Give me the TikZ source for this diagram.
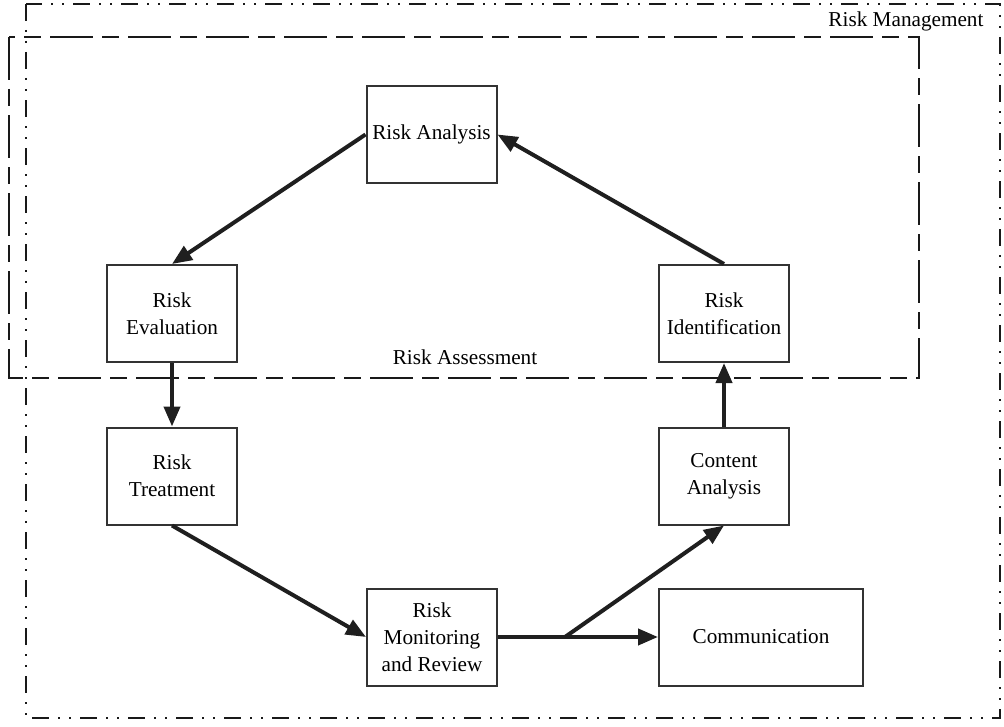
\documentclass[tikz,border=0pt]{standalone}
\usepackage{fontspec}
\setmainfont{Liberation Serif}
\usetikzlibrary{arrows.meta}
\begin{document}
\begin{tikzpicture}[x=1bp,y=-1bp,
  every node/.style={font=\fontsize{21.3}{27}\selectfont, text=black},
  procbox/.style={draw=black!80, line width=2bp, minimum width=130bp,
    minimum height=97bp, align=center, inner sep=0pt},
  flow/.style={line width=4bp, draw=black!88,
    -{Triangle[length=20bp,width=16bp]}},
  mgmt/.style={draw=black!90, line width=2.4bp,
    dash pattern=on 17bp off 9bp on 2bp off 9bp on 2bp off 9bp},
  assess/.style={draw=black!90, line width=2.4bp,
    dash pattern=on 43bp off 9bp on 17bp off 9bp}]
\useasboundingbox (0,0) rectangle (1004,727);

% frames for the two scopes
\draw[mgmt] (26,4) rectangle (1000,718);
\draw[assess] (9,37) rectangle (919,378);
\node[anchor=base east] (mgmtlabel) at (987,27) {Risk Management};
\node[anchor=base] (assesslabel) at (465,364) {Risk Assessment};

% process steps
\node[procbox] (ra) at (431.5,134.5) {Risk Analysis};
\node[procbox] (re) at (172,313.5) {Risk\\Evaluation};
\node[procbox] (ri) at (724,313.5) {Risk\\Identification};
\node[procbox] (rt) at (172,476) {Risk\\Treatment};
\node[procbox] (ca) at (724,476) {Content\\Analysis};
\node[procbox] (rm) at (432,637) {Risk\\Monitoring\\and Review};
\node[procbox, minimum width=204bp] (cm) at (761,637) {Communication};

% flow between steps
\coordinate (fork) at (565,637);
\draw[flow] (ri.north) -- (ra.east);
\draw[flow] (ra.west) -- (re.north);
\draw[flow] (re.south) -- (rt.north);
\draw[flow] (rt.south) -- (rm.west);
\draw[flow] (rm.east) -- (cm.west);
\draw[flow] (fork) -- (ca.south);
\draw[flow] (ca.north) -- (ri.south);
\end{tikzpicture}
\end{document}
